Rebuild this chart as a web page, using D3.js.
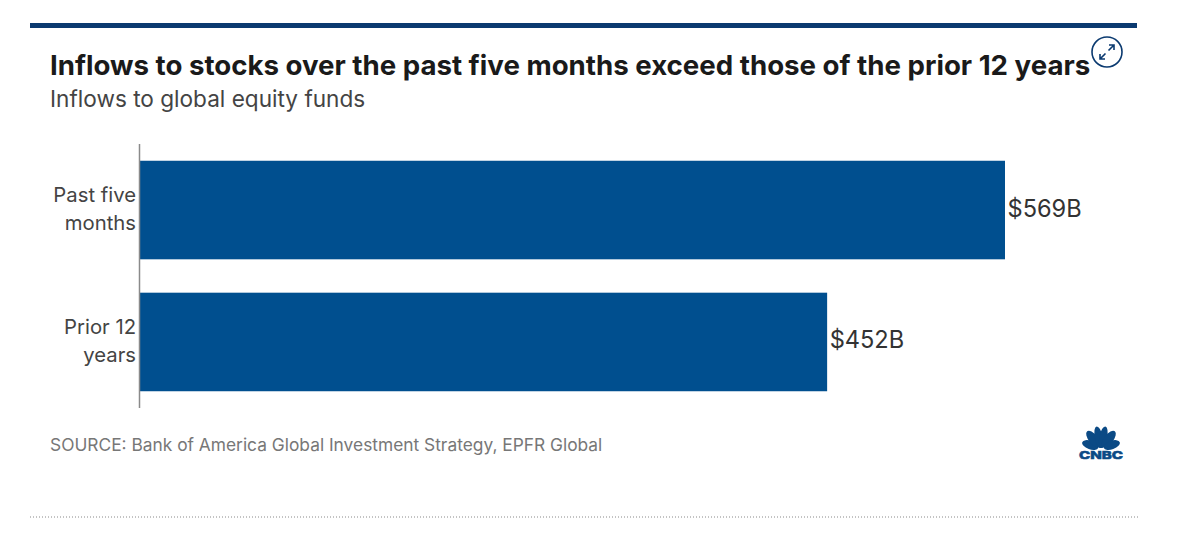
<!DOCTYPE html>
<html><head><meta charset="utf-8">
<script src="https://cdn.jsdelivr.net/npm/d3@7/dist/d3.min.js"></script>
<style>html,body{margin:0;padding:0;background:#fff;overflow:hidden}svg{display:block}text{font-family:"Inter",sans-serif}</style>
</head><body><svg id="c" width="1200" height="537"></svg>
<script>
const categories = [["Past five","months"],["Prior 12","years"]];
const values = [569,452];
const valueLabels = ["$569B","$452B"];
const titleText = "Inflows to stocks over the past five months exceed those of the prior 12 years";
const subtitleText = "Inflows to global equity funds";
const sourceText = "SOURCE: Bank of America Global Investment Strategy, EPFR Global";
const svg = d3.select("#c");
const x = d3.scaleLinear().domain([0,569]).range([140,1005]);
const y = d3.scaleBand().domain(d3.range(values.length)).range([144,408]).paddingInner(0.253).paddingOuter(0.127);
svg.append("rect").attr("x",30).attr("y",23).attr("width",1107).attr("height",5).attr("fill","#0b3a70");
svg.append("text").attr("x",50).attr("y",75).attr("font-size",27.65).attr("font-weight",700).attr("fill","#1a1a1a").text(titleText);
svg.append("text").attr("x",50).attr("y",107).attr("font-size",22.6).attr("fill","#444").text(subtitleText);
svg.selectAll("rect.bar").data(values).join("rect").attr("class","bar")
 .attr("x",x(0)).attr("y",(d,i)=>y(i)).attr("width",d=>x(d)-x(0)).attr("height",y.bandwidth()).attr("fill","#004f8f");
svg.append("line").attr("x1",x(0)-0.5).attr("x2",x(0)-0.5).attr("y1",144).attr("y2",408).attr("stroke","#8a8a8a").attr("stroke-width",1.5);
categories.forEach((c,i)=>{
  c.forEach((t,j)=>svg.append("text").attr("x",136).attr("y",y(i)+y.bandwidth()/2-8+j*28).attr("text-anchor","end").attr("font-size",20.3).attr("fill","#444").text(t));
});
svg.selectAll("text.val").data(values).join("text").attr("class","val")
 .attr("x",d=>x(d)+2.5).attr("y",(d,i)=>y(i)+y.bandwidth()/2+6.5).attr("font-size",23.6).attr("fill","#333").text((d,i)=>valueLabels[i]);
svg.append("text").attr("x",50).attr("y",451).attr("font-size",17.35).attr("fill","#777").text(sourceText);
svg.append("line").attr("x1",30).attr("x2",1138).attr("y1",517).attr("y2",517).attr("stroke","#888").attr("stroke-width",1).attr("stroke-dasharray","1 2");
// expand icon
const ic = svg.append("g").attr("transform","translate(1107,52)").attr("fill","none").attr("stroke","#0b3a70");
ic.append("circle").attr("r",15).attr("fill","#fff").attr("stroke-width",1.6);
ic.append("path").attr("stroke-width",1.6).attr("d","M-7 7L-1.5 1.5M-7 2V7H-2M7 -7L1.5 -1.5M2 -7H7V-2");
// CNBC logo
const logo = svg.append("g").attr("transform","translate(1101,449)").attr("fill","#0b4a85");
[-70,-38,-11,11,38,70].forEach(a=>{
  const outer=Math.abs(a)>60, mid=Math.abs(a)>30;
  logo.append("ellipse").attr("cx",0).attr("cy",outer?-11.5:mid?-12.5:-12).attr("rx",outer?4.3:mid?4.6:3.9).attr("ry",outer?8.5:mid?10:11).attr("transform",`rotate(${a})`);
});
logo.append("text").attr("x",0).attr("y",10).attr("text-anchor","middle").attr("font-size",11).attr("font-weight",800).attr("stroke","#0b4a85").attr("stroke-width",0.5).attr("textLength",44).attr("lengthAdjust","spacingAndGlyphs").text("CNBC");
</script></body></html>
